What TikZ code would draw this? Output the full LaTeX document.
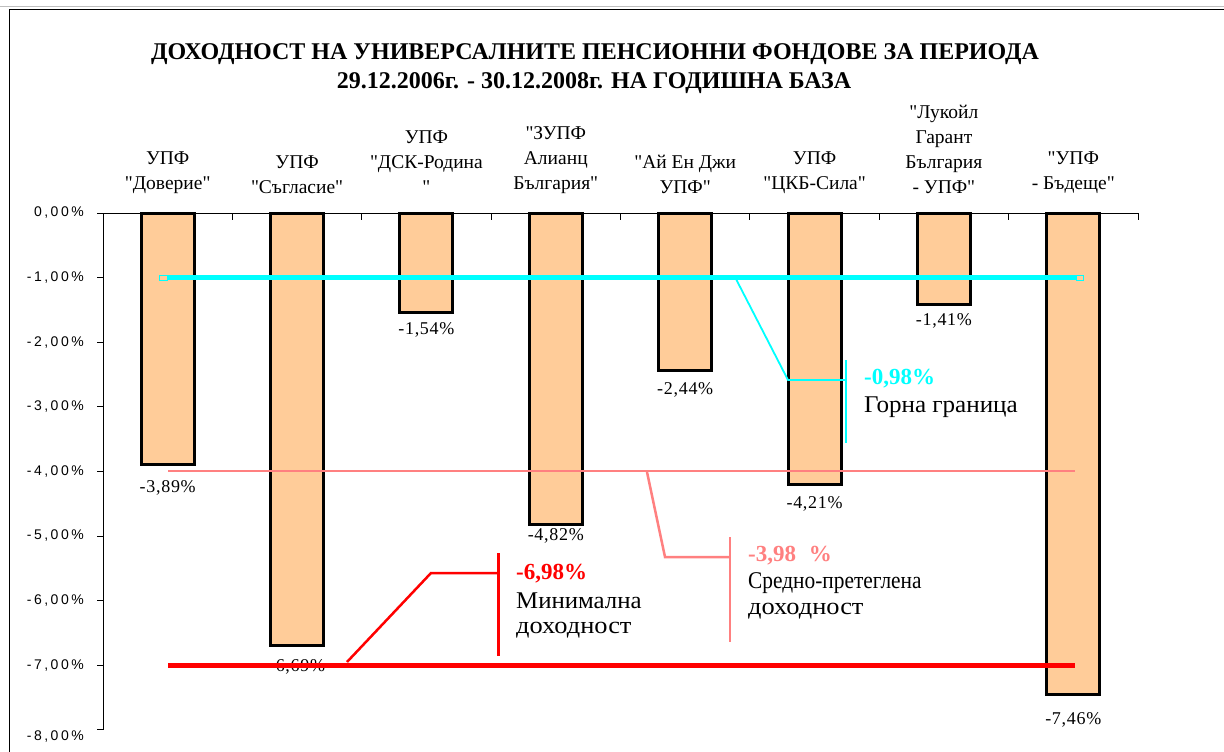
\documentclass[tikz,border=0pt]{standalone}
\usepackage{fontspec}
\setmainfont{Liberation Serif}[Ligatures=TeXOff]
\newfontfamily\axisfont[LetterSpace=18]{Liberation Sans}
\newfontfamily\valfont[LetterSpace=4]{Liberation Serif}
\definecolor{barfill}{HTML}{FFCC99}
\definecolor{upcol}{HTML}{00FFFF}
\definecolor{avgcol}{HTML}{FF8080}
\definecolor{mincol}{HTML}{FF0000}
\begin{document}
\begin{tikzpicture}[x=1pt,y=-1pt,
  barbox/.style={draw=black,line width=3pt,fill=barfill},
  axislab/.style={font=\axisfont\fontsize{14}{14}\selectfont,anchor=east,inner sep=0pt},
  vallab/.style={font=\valfont\fontsize{18}{18}\selectfont,inner sep=0pt},
  catlab/.style={font=\fontsize{19.5}{25}\selectfont,align=center,anchor=south,inner sep=0pt},
  titlelab/.style={font=\bfseries\fontsize{24}{24}\selectfont,inner sep=0pt},
  calltxt/.style={font=\fontsize{24}{24}\selectfont,anchor=west,inner sep=0pt},
  callval/.style={font=\bfseries\fontsize{23}{23}\selectfont,anchor=west,inner sep=0pt},
  thinaxis/.style={draw=black,line width=1pt}]
\useasboundingbox (0,0) rectangle (1224,752);
\fill[white] (0,0) rectangle (1224,752);
% frame
\draw[black!25,line width=1pt] (0,7) -- (1224,7);
\draw[black,line width=1.5pt] (9.5,752) -- (9.5,9.5) -- (1224,9.5);
% title
\node[titlelab] (t1) at (595,54) {ДОХОДНОСТ НА УНИВЕРСАЛНИТЕ ПЕНСИОННИ ФОНДОВЕ ЗА ПЕРИОДА};
\node[titlelab] (t2) at (594,83) {29.12.2006г. - 30.12.2008г. НА ГОДИШНА БАЗА};
% bars
\foreach \i/\v in {1/3.89,2/6.69,3/1.54,4/4.82,5/2.44,6/4.21,7/1.41,8/7.46}{
  \pgfmathsetmacro{\cx}{103+129.375*(\i-0.5)}
  \pgfmathsetmacro{\by}{213+64.6*\v}
  \draw[barbox] (\cx-26.5,213) rectangle (\cx+26.5,\by);
}
% axes
\draw[thinaxis] (97,213) -- (1138,213) -- (1138,220);
\draw[thinaxis] (103,213) -- (103,730);
\foreach \k in {1,...,8}{
  \draw[thinaxis] (97,213+64.6*\k) -- (103,213+64.6*\k);
}
\foreach \k in {1,...,7}{
  \draw[thinaxis] (103+129.375*\k,213) -- (103+129.375*\k,220);
}
\node[axislab] (y0) at (84,213) {0,00\%};
\node[axislab] (y1) at (84,277.6) {-1,00\%};
\node[axislab] (y2) at (84,342.2) {-2,00\%};
\node[axislab] (y3) at (84,406.8) {-3,00\%};
\node[axislab] (y4) at (84,471.4) {-4,00\%};
\node[axislab] (y5) at (84,536) {-5,00\%};
\node[axislab] (y6) at (84,600.6) {-6,00\%};
\node[axislab] (y7) at (84,665.2) {-7,00\%};
\node[axislab] (y8) at (84,737) {-8,00\%};
% category labels
\node[catlab] (c1) at (167.7,194) {УПФ\\"Доверие"};
\node[catlab] (c2) at (297.1,194) {УПФ\\"Съгласие"};
\node[catlab] (c3) at (426.4,194) {УПФ\\"ДСК-Родина\\"};
\node[catlab] (c4) at (555.8,194) {"ЗУПФ\\Алианц\\България"};
\node[catlab] (c5) at (685.2,194) {"Ай Ен Джи\\УПФ"};
\node[catlab] (c6) at (814.6,194) {УПФ\\"ЦКБ-Сила"};
\node[catlab] (c7) at (943.9,194) {"Лукойл\\Гарант\\България\\- УПФ"};
\node[catlab] (c8) at (1073.3,194) {"УПФ\\- Бъдеще"};
% value labels
\node[vallab] (v1) at (167.7,488) {-3,89\%};
\node[vallab] (v2) at (297.1,667) {-6,69\%};
\node[vallab] (v3) at (426.4,330) {-1,54\%};
\node[vallab] (v4) at (555.8,536) {-4,82\%};
\node[vallab] (v5) at (685.2,390) {-2,44\%};
\node[vallab] (v6) at (814.6,504) {-4,21\%};
\node[vallab] (v7) at (943.9,321) {-1,41\%};
\node[vallab] (v8) at (1073.3,720) {-7,46\%};
% upper bound (cyan)
\draw[upcol,line width=5pt] (167,277.5) -- (1076,277.5);
\draw[upcol,line width=1pt] (159.5,275) rectangle (167,280.5);
\draw[upcol,line width=1pt] (1076,275) rectangle (1083,280.5);
\coordinate (ua) at (736,279);
\coordinate (ub) at (846,380);
\coordinate (uc) at (846,360);
\coordinate (ud) at (846,443);
\draw[upcol,line width=1.8pt] (ua) -- (788,380) -- (ub);
\draw[upcol,line width=2pt] (uc) -- (ud);
\node[callval,text=upcol] (uv) at (864,379) {-0,98\%};
\node[calltxt,xscale=1.045] (ut) at (864,407) {Горна граница};
% weighted average (salmon)
\draw[avgcol,line width=2pt] (168,471) -- (1075,471);
\coordinate (aa) at (647,472);
\coordinate (ab) at (730,557);
\coordinate (ac) at (730,537);
\coordinate (ad) at (730,642);
\draw[avgcol,line width=2.5pt] (aa) -- (665,557) -- (ab);
\draw[avgcol,line width=2.5pt] (ac) -- (ad);
\node[callval,text=avgcol] (av) at (748,556) {-3,98\hspace{0.55em}\%};
\node[calltxt,xscale=0.89] (at1) at (748,583) {Средно-претеглена};
\node[calltxt,xscale=1.1] (at2) at (748,611) {доходност};
% minimum (red)
\draw[mincol,line width=5pt] (168,665) -- (1075,665);
\coordinate (ma) at (347,662);
\coordinate (mb) at (498,573);
\coordinate (mc) at (498,553);
\coordinate (md) at (498,656);
\draw[mincol,line width=2.5pt] (ma) -- (431,573) -- (mb);
\draw[mincol,line width=3pt] (mc) -- (md);
\node[callval,text=mincol] (mv) at (516,574) {-6,98\%};
\node[calltxt,xscale=1.035] (mt1) at (516,601) {Минимална};
\node[calltxt,xscale=1.1] (mt2) at (516,630) {доходност};
\end{tikzpicture}
\end{document}
